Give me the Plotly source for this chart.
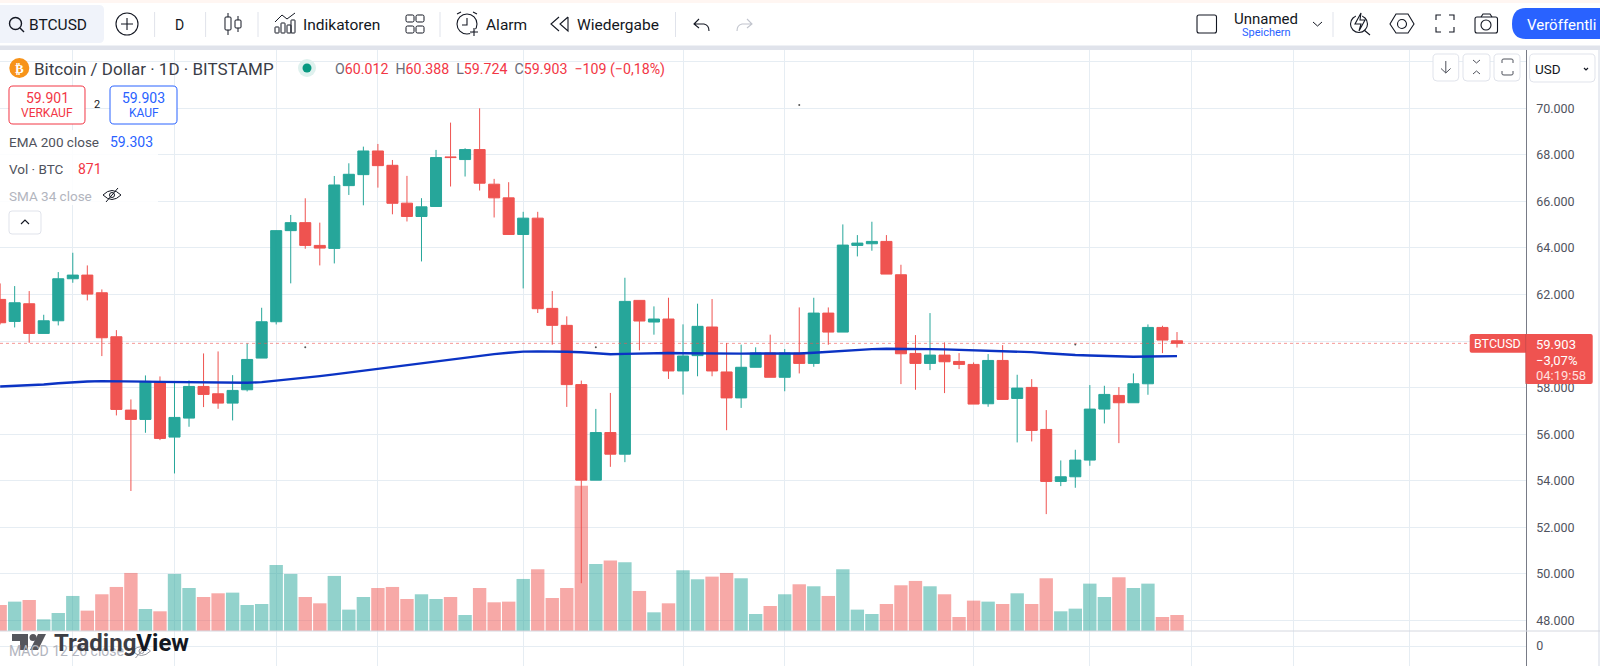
import re
import plotly.graph_objects as go

# ---------- data ----------
opens = [61790,60845,61604,60329,60873,62678,62835,62076,60186,57036,56635,58267,55876,56692,58052,57737,57336,57909,59270,60831,
         64745,65088,64110,63981,66678,67150,68167,67551,65925,65353,65782,67912,67798,68227,66740,66153,64580,65281,61406,60676,
         58131,54027,56071,55142,61749,60819,60948,58717,59375,60605,58674,57559,58875,59489,58445,59484,59041,61203,60387,64110,
         64181,64282,62850,59470,59041,59399,59126,58998,57308,59169,57537,58010,56205,53971,54172,54888,57079,57666,57351,58167,
         60587,60012]
highs = [62477,62363,62148,61131,62964,63795,63251,62220,60472,57494,58525,58482,58239,58310,59470,59556,58539,59900,61432,60900,
         65418,66134,65088,67093,67637,68353,68468,67780,67097,66139,68212,69385,68284,70000,66968,66825,65553,65553,62149,61063,
         58303,57087,57773,62721,61749,61491,61863,60719,61606,61806,59919,59847,59733,60276,59661,61446,61862,61446,65012,64554,
         65127,64554,63279,60258,61203,59943,59484,59084,59442,59828,58554,58367,57036,54873,55332,58110,58081,58024,58611,60716,
         60659,60388]
lows = [60716,60587,59928,60329,60673,62506,61747,59356,56807,53561,56062,55747,54315,56320,57165,57093,56592,57838,59270,60716,
        62480,63967,63250,63336,66277,65833,66592,65446,65138,63422,65782,66640,67069,66468,65310,64566,62263,61206,59847,57173,
        49600,54027,54599,54799,59604,60276,58374,57702,58489,58489,56172,57130,58875,58445,57845,58611,58897,59842,60387,63637,
        63881,62878,58153,57909,58754,57766,58797,57294,57179,57494,55647,55690,52568,53771,53699,54644,56463,55618,57351,57694,
        59484,59724]
closes = [60788,61647,60329,60873,62678,62835,62019,60143,57064,56635,58267,55819,56721,58052,57709,57336,57881,59212,60831,64745,
          65088,64110,63995,66706,67165,68167,67537,65919,65353,65767,67884,67884,68227,66782,66153,64580,65281,61391,60676,58131,
          54027,56071,55142,61706,60862,60948,58717,59361,60634,58717,57559,58875,59489,58445,59489,59041,61203,60387,64124,64210,
          64282,62878,59456,59041,59399,59112,58998,57294,59169,57494,57981,56162,53971,54172,54888,57079,57709,57351,58167,60587,
          60043,59903]
volumes = [1416,1597,1688,635,980,1906,1107,1997,2396,3158,1198,1071,3104,2341,1851,2051,2087,1416,1470,3594,
           3104,1851,1506,2995,1162,1851,2341,2396,1742,1997,1742,1851,871,2341,1561,1597,2831,3358,1797,2341,
           7895,3648,3830,3739,2178,1016,1506,3303,2813,2958,3158,2868,926,1361,1997,2541,2432,1906,3358,1162,
           926,1470,2487,2723,2432,1997,762,1652,1597,1470,2051,1470,2868,1071,1216,2577,1851,2922,2341,2577,
           762,871]
ema200 = [58052,58070,58100,58138,58190,58239,58265,58282,58285,58270,58260,58250,58240,58230,58220,58212,58210,58210,58239,58296,
          58370,58440,58496,58570,58650,58740,58820,58900,58960,59040,59110,59190,59270,59370,59440,59500,59547,59560,59561,59545,
          59518,59470,59433,59450,59470,59480,59490,59475,59465,59461,59461,59461,59465,59465,59465,59470,59500,59542,59590,59628,
          59655,59671,59675,59665,59656,59645,59630,59613,59600,59585,59560,59527,59480,59427,59400,59384,59365,59345,59327,59340,
          59350,59356]
days = list(range(len(closes)))
price_ticks = [48000,50000,52000,54000,56000,58000,60000,62000,64000,66000,68000,70000,72000]
price_labels = ["48.000","50.000","52.000","54.000","56.000","58.000","","62.000","64.000","66.000","68.000","70.000",""]
time_grid = [5,12,19,26,36,47,54,67,75,82,89,97]
speck_x = [21,41,55,74]
speck_y = [59740,59740,70140,59850]
last_price = 59903

UP, DOWN = "#26a69a", "#ef5350"
UP_V, DOWN_V = "rgba(38,166,154,0.5)", "rgba(239,83,80,0.5)"
GRID = "#e6edf3"
INK = "#131722"
FONT = "Roboto"
W, H = 1600, 666

fig = go.Figure()
fig.add_bar(x=days, y=volumes, xaxis="x", yaxis="y",
            marker=dict(color=[UP_V if c >= o else DOWN_V for o, c in zip(opens, closes)], line_width=0),
            name="Vol")
fig.add_candlestick(x=days, open=opens, high=highs, low=lows, close=closes, xaxis="x", yaxis="y2",
                    increasing=dict(line=dict(color=UP, width=1), fillcolor=UP),
                    decreasing=dict(line=dict(color=DOWN, width=1), fillcolor=DOWN),
                    whiskerwidth=0, name="BTCUSD")
fig.add_scatter(x=days, y=ema200, xaxis="x", yaxis="y2", mode="lines",
                line=dict(color="#0b33c4", width=2.4), name="EMA 200")
fig.add_scatter(x=speck_x, y=speck_y, xaxis="x", yaxis="y2", mode="markers",
                marker=dict(size=2, color="#555555"), name="marks")
fig.add_scatter(x=[days[0]], y=[0], xaxis="x2", yaxis="y3", mode="lines", name="MACD")

# ---------- page-pixel helpers ----------
def fx(x): return x / W
def fy(y): return 1 - y / H

def P(d):
    out, nums = [], []
    for tok in re.findall(r"[MLQCZ]|-?\d+\.?\d*", d):
        if tok in "MLQCZ":
            out.append(tok)
        else:
            nums.append(float(tok))
            if len(nums) == 2:
                out.append(f"{fx(nums[0]):.5f},{fy(nums[1]):.5f}")
                nums = []
    return " ".join(out)

shapes, notes = [], []
def path(d, color=INK, width=1.2, fill="rgba(0,0,0,0)"):
    shapes.append(dict(type="path", xref="paper", yref="paper", path=P(d),
                       line=dict(color=color, width=width), fillcolor=fill))
def rrect(x0, y0, x1, y1, r, color=INK, width=1, fill="rgba(0,0,0,0)"):
    path(f"M {x0+r} {y0} L {x1-r} {y0} Q {x1} {y0} {x1} {y0+r} L {x1} {y1-r} Q {x1} {y1} {x1-r} {y1} "
         f"L {x0+r} {y1} Q {x0} {y1} {x0} {y1-r} L {x0} {y0+r} Q {x0} {y0} {x0+r} {y0} Z", color, width, fill)
def box(x0, y0, x1, y1, fill):
    shapes.append(dict(type="rect", xref="paper", yref="paper", x0=fx(x0), x1=fx(x1), y0=fy(y0), y1=fy(y1),
                       line_width=0, fillcolor=fill))
def circ(cx, cy, r, color=INK, width=1.2, fill="rgba(0,0,0,0)"):
    shapes.append(dict(type="circle", xref="paper", yref="paper", x0=fx(cx-r), x1=fx(cx+r), y0=fy(cy-r), y1=fy(cy+r),
                       line=dict(color=color, width=width), fillcolor=fill))
def txt(x, y, s, size=14, color=INK, anchor="left"):
    notes.append(dict(xref="paper", yref="paper", x=fx(x), y=fy(y), text=s, showarrow=False, xanchor=anchor,
                      yanchor="middle", borderpad=0, borderwidth=0,
                      font=dict(family=FONT, size=size, color=color)))
def eye(cx, cy, color):
    path(f"M {cx-9} {cy} Q {cx} {cy-9} {cx+9} {cy} Q {cx} {cy+9} {cx-9} {cy} Z", color, 1)
    path(f"M {cx-6} {cy+7} L {cx+6} {cy-7}", color, 1)
    circ(cx, cy, 2.5, color, 1)

# ---------- toolbar ----------
box(0, 0, W, 3, "#fff6f2")
box(0, 45.5, W, 50, "#e0e3eb")
box(1598, 50, W, H, "#e9ecf2")
rrect(-6, 5, 104, 43, 5, "#f0f3fa", 0, "#f0f3fa")
circ(15.5, 23.5, 6, INK, 1.4)
path("M 20 28 L 24 32", INK, 1.4)
txt(29, 24.5, "BTCUSD", 15.5, INK)
circ(127, 24, 11, INK, 1.1)
path("M 127 18 L 127 30 M 121 24 L 133 24", INK, 1.1)
for sx in [154.6, 205.6, 258, 440, 675.5, 1333]:
    path(f"M {sx} 12 L {sx} 37", "#e0e3eb", 1)
txt(179.6, 24.5, "D", 14, INK, "center")
# candle icon
rrect(225, 17, 231, 30, 1, INK, 1)
path("M 228 13 L 228 17 M 228 30 L 228 35", INK, 1)
rrect(235, 20, 241, 28, 1, INK, 1)
path("M 238 16 L 238 20 M 238 28 L 238 32", INK, 1)
# indicators icon
path("M 275 22 L 282 15 L 287 19 L 295 13", INK, 1)
rrect(275, 27, 279, 33, 0.5, INK, 1)
rrect(281, 23, 285, 33, 0.5, INK, 1)
rrect(287, 25, 291, 33, 0.5, INK, 1)
rrect(291, 20, 295, 33, 0.5, INK, 1)
txt(302.5, 24.5, "Indikatoren", 15.5, INK)
for gx in [406, 416]:
    for gy in [15, 26]:
        rrect(gx, gy, gx + 8, gy + 7, 1.5, INK, 1)
# alarm
circ(467, 24, 10, INK, 1.1)
path("M 467 18 L 467 25 L 462 25 M 457 14 L 461 12 M 477 14 L 473 12", INK, 1.1)
box(470, 29, 478, 35, "rgba(255,255,255,0.8)")
path("M 470 32 L 478 32 M 474 28 L 474 36", INK, 1.1)
txt(485.7, 24.5, "Alarm", 15.5, INK)
path("M 559 17 L 551 24 L 559 31 M 568 17 L 560 24 L 568 31 L 568 17", INK, 1.1)
txt(576.5, 24.5, "Wiedergabe", 15.5, INK)
path("M 699 19 L 694 24 L 699 28 M 694 24 L 704 24 Q 709 25 709 31", INK, 1.1)
path("M 747 19 L 752 24 L 747 28 M 752 24 L 742 24 Q 737 25 737 31", "#c1c4cd", 1.1)
rrect(1197, 15, 1216.5, 33, 2, INK, 1.1)
txt(1266, 19, "Unnamed", 15, INK, "center")
txt(1266.5, 32.5, "Speichern", 11, "#2962ff", "center")
path("M 1313 22 L 1317.5 26 L 1322 22", INK, 1)
# lightning magnifier
circ(1359, 24, 8.5, INK, 1.1)
box(1356, 13, 1362, 30, "#ffffff")
path("M 1361 13 L 1355 24 L 1361 24 L 1359 31 L 1365 20 L 1360 20 Z M 1364 30 L 1370 35", INK, 1.1)
# hexagon
path("M 1396 14 L 1408 14 L 1414 24 L 1408 33 L 1396 33 L 1390 24 Z", INK, 1.1)
circ(1402, 24, 4.5, INK, 1.1)
# fullscreen
path("M 1436 20 L 1436 15 L 1441 15 M 1449 15 L 1454 15 L 1454 20 M 1454 27 L 1454 32 L 1449 32 M 1441 32 L 1436 32 L 1436 27", INK, 1.1)
# camera
rrect(1475, 17, 1497.5, 33, 2, INK, 1.1)
path("M 1481 17 L 1483 14 L 1490 14 L 1492 17", INK, 1.1)
circ(1486, 25, 5, INK, 1.1)
# publish button
path("M 1526 8 L 1600 8 L 1600 39 L 1526 39 Q 1512 39 1512 24 Q 1512 8 1526 8 Z", "#2962ff", 0, "#2962ff")
txt(1526.5, 24.5, "Veröffentli", 15, "#ffffff")

# ---------- chart legend ----------
box(0, 130, 158, 205, "rgba(255,255,255,0.85)")
circ(19.3, 68, 10, "#f7931a", 0, "#f7931a")
txt(19.3, 68.5, "<b>₿</b>", 13, "#ffffff", "center")
txt(34, 69, "Bitcoin\u00a0/\u00a0Dollar · 1D · BITSTAMP", 17, "#3a3d47")
circ(307, 68, 9, "#dff1ee", 0, "#dff1ee")
circ(307, 68, 4.5, "#089981", 0, "#089981")
G = "#6a6d78"; R = "#f23645"
def ohlc(label, value):
    return f'<span style="color:{G}">{label}</span>{value}'
txt(335, 69, "  ".join([ohlc("O", "60.012"), ohlc("H", "60.388"), ohlc("L", "59.724"), ohlc("C", "59.903")]) + "  −109 (−0,18%)", 14.2, R)
rrect(9, 86, 85, 124, 4, "#f23645", 1, "#ffffff")
txt(47, 98, "59.901", 14, "#f23645", "center")
txt(47, 113.5, "VERKAUF", 12, "#f23645", "center")
txt(97, 104, "2", 11, INK, "center")
rrect(110, 86, 177, 124, 4, "#2962ff", 1, "#ffffff")
txt(143.5, 98, "59.903", 14, "#2962ff", "center")
txt(143.5, 113.5, "KAUF", 12, "#2962ff", "center")
txt(9, 142, "EMA 200 close", 13.5, "#4f525c")
txt(110, 142, "59.303", 14, "#2962ff")
txt(9, 169, "Vol · BTC", 13.5, "#4f525c")
txt(77.5, 169, "871", 14, "#f23645")
txt(9, 195.5, "SMA 34 close", 13.5, "#b2b5be")
eye(112, 195, INK)
rrect(9, 211, 41, 234, 3, "#e0e3eb", 1, "#ffffff")
path("M 21 224 L 25 220 L 29 224", INK, 1.1)

# ---------- top-right buttons ----------
for bx0, bx1 in [(1433, 1458.7), (1463, 1490), (1494, 1520)]:
    rrect(bx0, 54, bx1, 81, 4, "#e0e3eb", 1, "#ffffff")
path("M 1445.8 61 L 1445.8 73 M 1441 68.5 L 1445.8 73 L 1450.6 68.5", "#4f525c", 1)
path("M 1473 60 L 1476.5 63 L 1480 60 M 1473 74 L 1476.5 71 L 1480 74", "#4f525c", 1)
path("M 1502 63 L 1502 60 Q 1502 59 1504 59 L 1511 59 Q 1513 59 1513 60 L 1513 63 M 1502 71 L 1502 74 Q 1502 75 1504 75 L 1511 75 Q 1513 75 1513 74 L 1513 71", "#4f525c", 1)
rrect(1529.6, 54, 1595, 82, 4, "#e0e3eb", 1, "#ffffff")
txt(1534.7, 69, "USD", 13.5, INK)
path("M 1584 68 L 1586 70 L 1588 68", INK, 1.2)

# ---------- last-price tags ----------
shapes.append(dict(type="line", xref="paper", yref="y2", x0=0, x1=fx(1470), y0=last_price, y1=last_price,
                   line=dict(color="rgba(239,83,80,0.6)", width=1, dash="dot")))
rrect(1469.7, 334, 1530, 352.7, 2, DOWN, 0, DOWN)
rrect(1525.7, 334, 1592.7, 384, 2, DOWN, 0, DOWN)
path("M 1525.7 334 L 1525.7 384", "#b9474a", 0.6)
txt(1497, 343.5, "BTCUSD", 12.5, "#ffffff", "center")
txt(1535.5, 344, "59.903", 13, "#ffffff")
txt(1535.5, 360, "−3,07%", 13, "#ffffff")
txt(1535.5, 375, "04:19:58", 13, "#ffe0df")

# ---------- pane separator + watermark ----------
path(f"M 0 631 L {W} 631", "#d5d8e0", 1)
txt(8.5, 651, "MACD 12 26 close", 14, "#b2b5be")
eye(141.5, 651, "#9598a1")
G2 = "#55565c"
path("M 12 634 L 28 634 L 28 650 L 20 650 L 20 641 L 12 641 Z", G2, 0, G2)
circ(33, 637.5, 3.5, G2, 0, G2)
path("M 46 634 L 38 634 L 30 650 L 38 650 Z", G2, 0, G2)
txt(53.5, 643, '<span style="color:#3c3d44"><b>Trading</b></span><b>View</b>', 24, "#131722")

ax_font = dict(family=FONT, size=12.5, color="#50535e")
px_dom = [0, 1525.7 / W]
fig.update_layout(
    width=W, height=H, margin=dict(l=0, r=0, t=0, b=0, pad=0),
    paper_bgcolor="#ffffff", plot_bgcolor="#ffffff", showlegend=False, bargap=0.08, boxgap=0.24, boxgroupgap=0,
    shapes=shapes, annotations=notes, hovermode=False,
    xaxis=dict(domain=px_dom, range=[-0.01, 105.0], anchor="y", rangeslider=dict(visible=False),
               tickmode="array", tickvals=time_grid, showticklabels=False, ticks="",
               showgrid=True, gridcolor=GRID, gridwidth=1, zeroline=False, showline=False),
    xaxis2=dict(domain=px_dom, range=[-0.01, 105.0], anchor="y3",
                tickmode="array", tickvals=time_grid, showticklabels=False, ticks="",
                showgrid=True, gridcolor=GRID, gridwidth=1, zeroline=False, showline=False),
    yaxis=dict(domain=[1 - 631 / H, 1 - 50 / H], range=[0, 31606], anchor="x", showgrid=False,
               showticklabels=False, zeroline=False, ticks="", showline=False),
    yaxis2=dict(domain=[1 - 631 / H, 1 - 50 / H], range=[47547, 72504], overlaying="y", anchor="x", side="right",
                tickmode="array", tickvals=price_ticks, ticktext=price_labels, tickfont=ax_font,
                showgrid=True, gridcolor=GRID, gridwidth=1, zeroline=False, ticks="", ticklabelstandoff=7,
                showline=True, linecolor="#787b86", linewidth=1),
    yaxis3=dict(domain=[0, 1 - 631 / H], range=[-20, 15], anchor="x2", side="right",
                tickmode="array", tickvals=[0], ticktext=["0"], tickfont=ax_font,
                showgrid=True, gridcolor=GRID, gridwidth=1, zeroline=False, ticks="", ticklabelstandoff=7,
                showline=True, linecolor="#787b86", linewidth=1),
)
fig.write_html("out.html", config=dict(displayModeBar=False),
               post_script="document.body.style.margin='0';document.body.style.overflow='hidden';")
